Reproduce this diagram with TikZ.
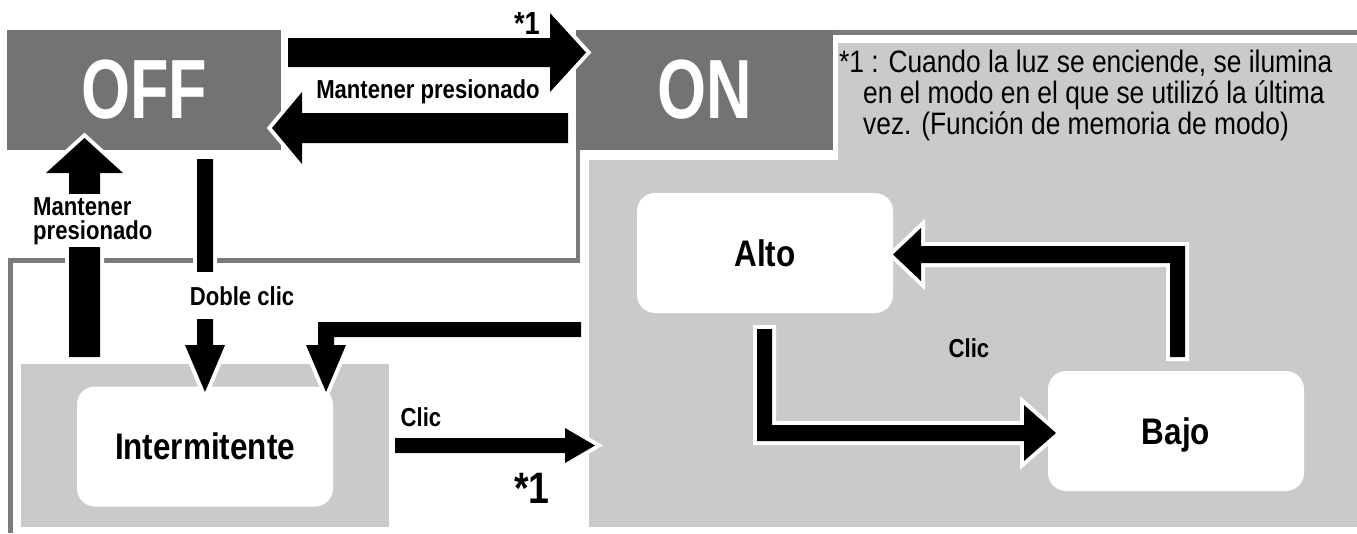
\documentclass[tikz,border=0pt]{standalone}
\usepackage{fontspec}
\setmainfont{Liberation Sans}
\newfontfamily\labfont[FakeStretch=0.85]{Liberation Sans}
\newfontfamily\bigfont[FakeStretch=0.75]{Liberation Sans}
\newfontfamily\notefont[FakeStretch=0.85]{Liberation Sans}
\definecolor{darkbox}{HTML}{737373}
\definecolor{lightbg}{HTML}{C9CAC9}
\definecolor{framec}{HTML}{7A7A7A}
\begin{document}
\begin{tikzpicture}[x=1pt,y=-1pt,
  dark/.style={fill=darkbox, inner sep=0pt, text=white,
    font=\bigfont\bfseries\fontsize{84}{84}\selectfont},
  mode/.style={fill=white, rounded corners=18pt, minimum width=256pt,
    minimum height=120pt, inner sep=0pt, text depth=0pt,
    font=\labfont\bfseries\fontsize{37}{37}\selectfont},
  lab/.style={font=\labfont\bfseries\fontsize{26}{24}\selectfont, inner sep=0pt},
  note/.style={font=\notefont\fontsize{31}{31}\selectfont, inner sep=0pt, anchor=base west},
  arr/.style={fill=black, preaction={draw=white, line width=8pt, line join=miter}},
  frameline/.style={draw=framec, line width=4.5pt}
]
\useasboundingbox (0,0) rectangle (1357,533);
\clip (0,0) rectangle (1357,533);

% background areas
\fill[lightbg] (21,364) rectangle (389,527);
\fill[lightbg] (589,43) rectangle (1357,527);
\fill[white] (585,40) rectangle (838,160);

% frame lines
\draw[frameline] (833,32.5) -- (1357,32.5);
\draw[frameline] (578,150) -- (578,260.5) -- (10.5,260.5) -- (10.5,533);

% state boxes
\node[dark, minimum width=274pt, minimum height=120pt] (OFF) at (144,90) {OFF};
\node[dark, minimum width=257pt, minimum height=120pt] (ON) at (704.5,90) {ON};
\node[mode] (Alto) at (765,253) {Alto};
\node[mode] (Bajo) at (1176,431) {Bajo};
\node[mode] (Inter) at (205,446.5) {Intermitente};

% arrows
% OFF -> ON
\fill[arr] (288,38) -- (550,38) -- (550,13) -- (586,52.5) -- (550,92) -- (550,67) -- (288,67) -- cycle;
% ON -> OFF
\fill[arr] (568,113) -- (302,113) -- (302,92) -- (272,128) -- (302,164) -- (302,143) -- (568,143) -- cycle;
% Intermitente -> OFF
\fill[arr] (69,357) -- (69,173) -- (46,173) -- (84.5,138) -- (123,173) -- (100,173) -- (100,357) -- cycle;
% OFF -> Intermitente (Doble clic)
\fill[arr] (197,159) -- (213,159) -- (213,345) -- (225,345) -- (205,392) -- (185,345) -- (197,345) -- cycle;
% ON -> Intermitente
\fill[arr] (581,322) -- (318,322) -- (318,345) -- (306,345) -- (326,392) -- (346,345) -- (334,345) -- (334,337) -- (581,337) -- cycle;
% Intermitente -> ON (Clic)
\fill[arr] (395,438) -- (565,438) -- (565,428) -- (595,445.5) -- (565,463) -- (565,453) -- (395,453) -- cycle;
% Alto -> Bajo
\fill[arr] (757,329) -- (772,329) -- (772,425) -- (1024,425) -- (1024,405) -- (1056,433) -- (1024,461) -- (1024,441) -- (757,441) -- cycle;
% Bajo -> Alto
\fill[arr] (1170,357) -- (1185,357) -- (1185,246) -- (921,246) -- (921,228) -- (893,254.5) -- (921,281) -- (921,263) -- (1170,263) -- cycle;

% labels
\node[lab, anchor=base] (lblHold) at (428,98) {Mantener presionado};
\node[lab, anchor=base east, font=\labfont\bfseries\fontsize{32}{32}\selectfont] (starTop) at (540,34) {*1};
\node[lab, anchor=north west, align=left, fill=white, inner ysep=3pt] (lblHoldL) at (33,194) {Mantener\\presionado};
\node[lab, anchor=base, fill=white, inner ysep=14pt, inner xsep=2pt] (lblDbl) at (242,305) {Doble clic};
\node[lab, anchor=base] (lblClicA) at (421,426) {Clic};
\node[lab, anchor=base west, font=\labfont\bfseries\fontsize{44}{44}\selectfont] (starBot) at (514,503) {*1};
\node[lab, anchor=base] (lblClicB) at (969,357) {Clic};

% footnote
\node[note] (n1) at (839,72) {*1 : Cuando la luz se enciende, se ilumina};
\node[note] (n2) at (863,103) {en el modo en el que se utilizó la última};
\node[note] (n3) at (863,134) {vez. (Función de memoria de modo)};
\end{tikzpicture}
\end{document}
